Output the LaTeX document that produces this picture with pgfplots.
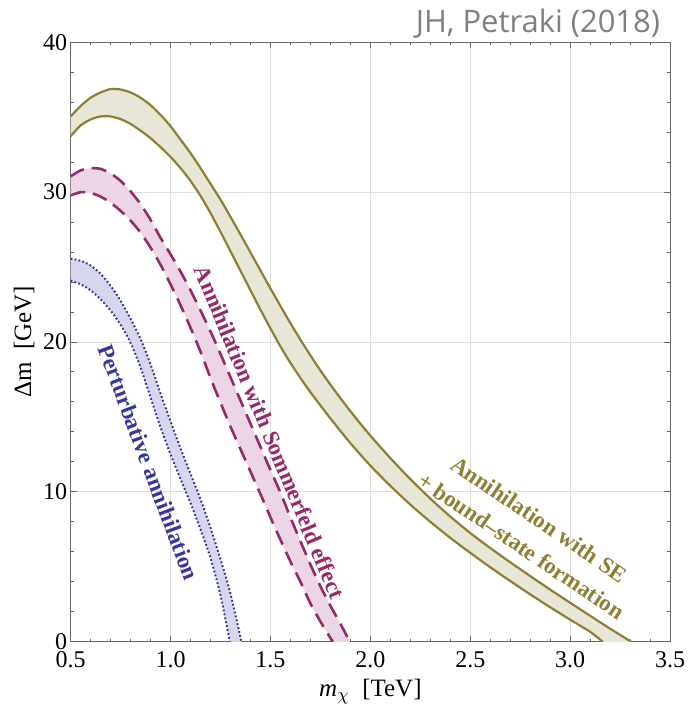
\documentclass[border=0pt]{standalone}
\usepackage{fontspec}
\setmainfont{Liberation Serif}
\newfontfamily\jhfont{Open Sans}
\usepackage{pgfplots}
\pgfplotsset{compat=1.18}
\usepackage{pgfplotstable}
\usepgfplotslibrary{fillbetween}

\definecolor{olC}{RGB}{142,127,52}
\definecolor{olF}{RGB}{232,230,214}
\definecolor{mgC}{RGB}{150,42,105}
\definecolor{mgF}{RGB}{236,214,229}
\definecolor{blC}{RGB}{55,55,155}
\definecolor{blF}{RGB}{214,214,236}

\pgfplotstableread{
x y
0.5 35.05
0.55 35.75
0.6 36.3
0.65 36.65
0.7 36.88
0.75 36.85
0.8 36.65
0.85 36.3
0.9 35.8
0.95 35.15
1.0 34.4
1.05 33.5
1.1 32.6
1.15 31.6
1.2 30.55
1.25 29.5
1.3 28.35
1.35 27.17
1.4 25.97
1.45 24.77
1.5 23.57
1.55 22.4
1.6 21.25
1.65 20.15
1.7 19.1
1.75 18.1
1.8 17.15
1.85 16.25
1.9 15.38
1.95 14.55
2.0 13.75
2.1 12.25
2.2 10.85
2.3 9.55
2.4 8.35
2.5 7.25
2.6 6.25
2.7 5.3
2.8 4.38
2.9 3.48
3.0 2.6
3.1 1.73
3.2 0.87
3.305 0
}\oliveup

\pgfplotstableread{
x y
0.5 33.73
0.55 34.45
0.6 34.85
0.65 35.05
0.7 35.05
0.75 34.87
0.8 34.55
0.85 34.1
0.9 33.6
0.95 33.0
1.0 32.35
1.05 31.6
1.1 30.75
1.15 29.75
1.2 28.6
1.25 27.35
1.3 26.05
1.35 24.75
1.4 23.45
1.45 22.15
1.5 20.9
1.55 19.7
1.6 18.6
1.65 17.6
1.7 16.65
1.8 14.9
1.9 13.25
2.0 11.75
2.1 10.4
2.2 9.15
2.3 8.0
2.4 6.93
2.5 5.93
2.6 4.97
2.7 4.05
2.8 3.16
2.9 2.3
3.0 1.47
3.1 0.66
3.163 0
}\olivelo

\pgfplotstableread{
x y
0.5 31.05
0.55 31.45
0.6 31.6
0.65 31.55
0.7 31.25
0.75 30.75
0.8 30.05
0.85 29.2
0.9 28.15
0.95 26.95
1.0 25.85
1.05 24.7
1.1 23.45
1.15 22.1
1.2 20.7
1.25 19.2
1.3 17.65
1.35 16.1
1.4 14.55
1.45 13.0
1.5 11.45
1.55 9.95
1.6 8.3
1.65 6.7
1.7 5.15
1.75 3.7
1.8 2.4
1.85 1.2
1.897 0
}\magup

\pgfplotstableread{
x y
0.5 29.78
0.55 30.0
0.6 29.95
0.65 29.7
0.7 29.3
0.75 28.75
0.8 28.1
0.85 27.3
0.9 26.3
0.95 25.15
1.0 23.85
1.05 22.45
1.1 20.95
1.15 19.35
1.2 17.6
1.25 15.95
1.3 14.35
1.35 12.85
1.4 11.35
1.45 9.85
1.5 8.3
1.55 6.8
1.6 5.35
1.65 4.0
1.7 2.55
1.75 1.35
1.8 0.25
1.813 0
}\maglo

\pgfplotstableread{
x y
0.5 25.56
0.55 25.42
0.6 25.1
0.65 24.55
0.7 23.75
0.75 22.75
0.8 21.55
0.85 20.2
0.9 18.5
0.95 16.55
1.0 14.7
1.05 12.9
1.1 11.2
1.15 9.5
1.2 7.6
1.25 5.5
1.3 3.2
1.355 0
}\blueup

\pgfplotstableread{
x y
0.5 24.1
0.55 23.85
0.6 23.45
0.65 22.85
0.7 22.1
0.75 21.15
0.8 19.95
0.85 18.3
0.9 16.3
0.95 14.3
1.0 12.5
1.05 10.85
1.1 9.25
1.15 7.5
1.2 5.6
1.25 3.1
1.297 0
}\bluelo

\begin{document}
\begin{tikzpicture}
\begin{axis}[
  set layers,
  width=300pt, height=300pt, scale only axis,
  xmin=0.5, xmax=3.5, ymin=0, ymax=40,
  xtick={0.5,1,1.5,2,2.5,3,3.5},
  ytick={0,10,20,30,40},
  minor x tick num=4, minor y tick num=4,
  tick align=inside, tick pos=both,
  major tick length=3pt, minor tick length=1.6pt,
  grid=major,
  major grid style={draw=black!13, line width=0.5pt},
  axis line style={draw=black!60, line width=0.6pt},
  tick style={draw=black!60, line width=0.5pt},
  /pgf/number format/assume math mode=true,
  xticklabel style={/pgf/number format/fixed, /pgf/number format/fixed zerofill, /pgf/number format/precision=1, font=\fontsize{12}{14}\selectfont, yshift=-1.5pt},
  yticklabel style={font=\fontsize{12}{14}\selectfont, xshift=1.8pt},
  xlabel={\textit{m}$_{\chi}$\enspace[TeV]},
  ylabel={Δm\enspace[GeV]},
  xlabel style={at={(axis description cs:0.5,-0.092)}, anchor=base, font=\fontsize{12.5}{15}\selectfont},
  ylabel style={at={(axis description cs:-0.066,0.5)}, anchor=base, rotate=0, font=\fontsize{12.5}{15}\selectfont},
]
\addplot[name path=ou, draw=olC, line width=1.1pt, smooth, tension=0.4] table {\oliveup};
\addplot[name path=ol, draw=olC, line width=1.1pt, smooth, tension=0.4] table {\olivelo};
\addplot[fill=olF, draw=none] fill between[of=ou and ol];

\addplot[name path=mu, draw=mgC, line width=1.3pt, dash pattern=on 7.5pt off 4pt, smooth, tension=0.4] table {\magup};
\addplot[name path=ml, draw=mgC, line width=1.3pt, dash pattern=on 7.5pt off 4pt, smooth, tension=0.4] table {\maglo};
\addplot[fill=mgF, draw=none] fill between[of=mu and ml];

\addplot[name path=bu, draw=blC, line width=1pt, dash pattern=on 0.9pt off 1.1pt, smooth, tension=0.4] table {\blueup};
\addplot[name path=bl, draw=blC, line width=1pt, dash pattern=on 0.9pt off 1.1pt, smooth, tension=0.4] table {\bluelo};
\addplot[fill=blF, draw=none] fill between[of=bu and bl];

\node[rotate=-69.5, text=blC, font=\bfseries\fontsize{11.5}{13}\selectfont] at (axis cs:0.89,11.98) {Perturbative annihilation};
\node[rotate=-67.5, text=mgC, font=\bfseries\fontsize{11.5}{13}\selectfont] at (axis cs:1.497,13.98) {Annihilation with Sommerfeld effect};
\node[rotate=-34, text=olC, align=center, font=\bfseries\fontsize{11.5}{16}\selectfont] at (axis cs:2.80,7.28) {Annihilation with SE\\+ bound–state formation};
\end{axis}
\node[anchor=base east, text=black!50, font=\jhfont\fontsize{15.5}{18}\selectfont] at ([xshift=-1.5pt,yshift=5pt]current axis.north east) {JH, Petraki (2018)};
\pgfresetboundingbox
\path[use as bounding box] ([shift={(-35.35pt,-36.65pt)}]current axis.south west) rectangle ([shift={(9.5pt,21.15pt)}]current axis.north east);
\end{tikzpicture}
\end{document}
